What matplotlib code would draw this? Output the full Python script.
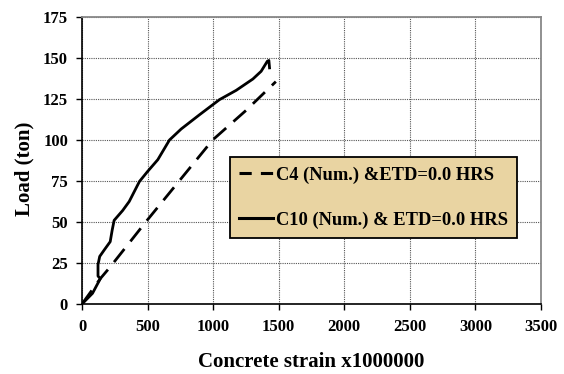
import numpy as np
import matplotlib.pyplot as plt
from matplotlib.lines import Line2D

# C4 (Num.) dashed curve
c4_strain = [0, 140, 216, 488, 996, 1250, 1478]
c4_load = [0, 15.5, 22.7, 50.2, 100, 118, 135.6]

# C10 (Num.) solid curve
c10_strain = [0, 80, 140, 122, 122, 135, 170, 215, 230, 245, 310, 360, 438,
              500, 578, 667, 756, 896, 1048, 1176, 1303, 1366, 1413, 1425, 1430]
c10_load = [0, 6.5, 15.5, 17, 24, 29, 33, 38, 45, 51, 57, 62.5, 74.7,
            80.8, 88, 100, 106.7, 115.4, 124.6, 130.3, 137.2, 141.9, 148, 148.5, 144]

labels = ["C4 (Num.) &ETD=0.0 HRS", "C10 (Num.) & ETD=0.0 HRS"]

plt.rcParams["font.family"] = ["Liberation Serif", "DejaVu Serif"]
plt.rcParams["font.weight"] = "bold"

fig = plt.figure(figsize=(5.64, 3.74), dpi=100)
ax = fig.add_axes([0.1454, 0.1872, 0.8138, 0.7673])

ax.plot(c4_strain, c4_load, color="black", lw=2.0, ls=(0, (6, 3.5)),
        dash_capstyle="butt", label=labels[0])
ax.plot(c10_strain, c10_load, color="black", lw=2.0, solid_joinstyle="round",
        label=labels[1])

ax.set_xlim(0, 3500)
ax.set_ylim(0, 175)
ax.set_xticks(np.arange(0, 3501, 500))
ax.set_yticks(np.arange(0, 176, 25))
ax.grid(True, color="#555555", ls=(0, (1, 1)), lw=0.8)
ax.set_axisbelow(True)

for s in ["top", "right"]:
    ax.spines[s].set_color("#888888")
    ax.spines[s].set_linewidth(1.3)
for s in ["left", "bottom"]:
    ax.spines[s].set_color("black")
    ax.spines[s].set_linewidth(1.2)

ax.tick_params(axis="both", direction="out", length=4, width=1, labelsize=12,
               top=False, right=False)
ax.tick_params(axis="x", pad=7)
ax.tick_params(axis="y", pad=6)
for t in ax.get_xticklabels() + ax.get_yticklabels():
    t.set_fontweight("bold")

ax.set_xlabel("Concrete strain x1000000", fontsize=15, fontweight="bold", labelpad=12)
ax.set_ylabel("Load (ton)", fontsize=15, fontweight="bold")
ax.yaxis.set_label_coords(-0.104, 0.47)

handles = [Line2D([], [], color="black", lw=2.2, ls=(0, (4, 3))),
           Line2D([], [], color="black", lw=2.2)]
leg = ax.legend(handles, labels, loc="upper left", bbox_to_anchor=(0.322, 0.512),
                fontsize=13.3, frameon=True, fancybox=False, handlelength=1.85,
                handletextpad=0.15, borderpad=0.5, labelspacing=1.5,
                borderaxespad=0)
leg.get_frame().set_facecolor("#e9d4a2")
leg.get_frame().set_edgecolor("black")
leg.get_frame().set_linewidth(1.3)
leg.get_frame().set_alpha(1)
for t in leg.get_texts():
    t.set_fontweight("bold")

fig.savefig("out.png", dpi=100)
